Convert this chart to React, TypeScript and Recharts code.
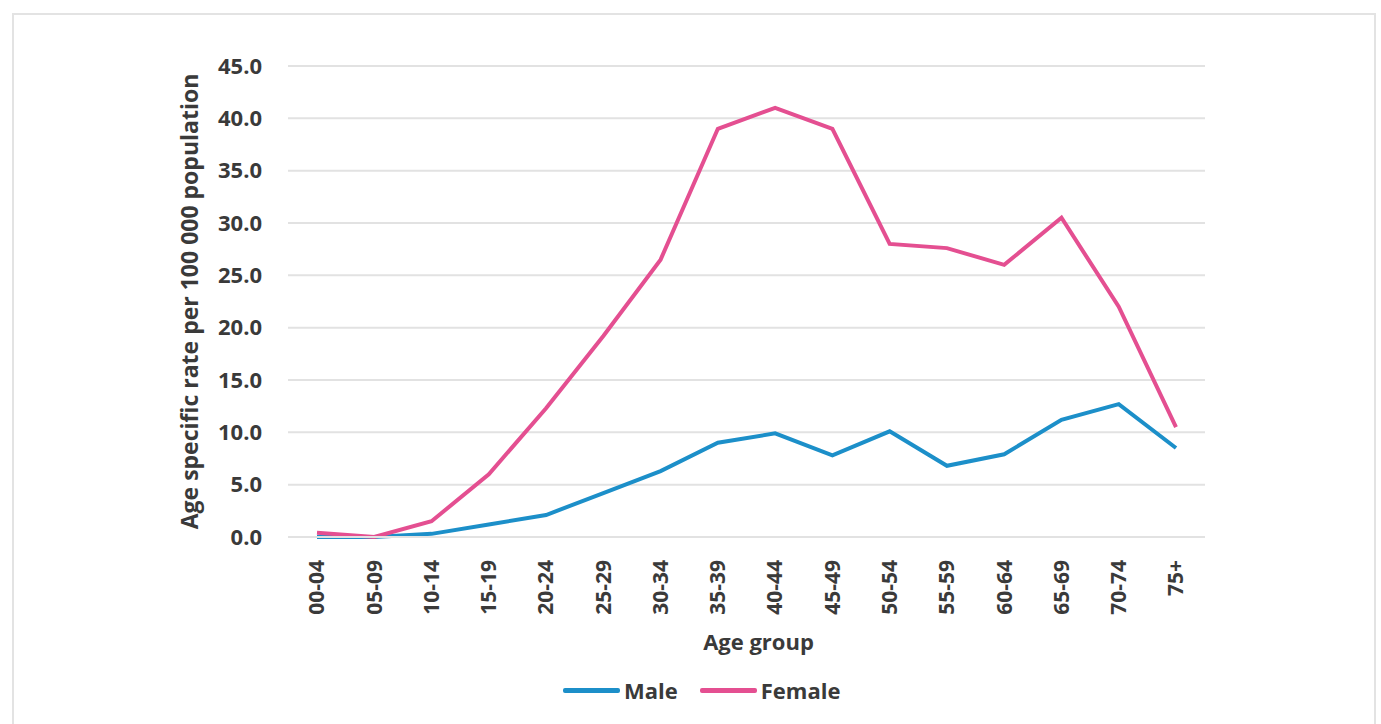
import React from 'react'
import { LineChart, Line, XAxis, YAxis, CartesianGrid, Legend } from 'recharts'

const ageGroups = ['00-04', '05-09', '10-14', '15-19', '20-24', '25-29', '30-34', '35-39', '40-44', '45-49', '50-54', '55-59', '60-64', '65-69', '70-74', '75+']
const maleRates = [0.0, 0.0, 0.3, 1.2, 2.1, 4.2, 6.3, 9.0, 9.9, 7.8, 10.1, 6.8, 7.9, 11.2, 12.7, 8.5]
const femaleRates = [0.4, 0.0, 1.5, 6.0, 12.3, 19.2, 26.5, 39.0, 41.0, 39.0, 28.0, 27.6, 26.0, 30.5, 22.0, 10.5]
const yTicks = [0, 5, 10, 15, 20, 25, 30, 35, 40, 45]

const MALE = '#1c8fc9'
const FEMALE = '#e44f91'
const TEXT = '#3a3a3a'
const FONT = '"Open Sans", Lato, sans-serif'

const data = ageGroups.map((g, i) => ({ group: g, male: maleRates[i], female: femaleRates[i] }))

function AgeTick({ x, y, payload }: any) {
  return (
    <text
      x={x}
      y={y}
      transform={`rotate(-90, ${x}, ${y})`}
      textAnchor="end"
      dy="0.35em"
      fill={TEXT}
      fontSize={21}
      fontWeight={700}
      fontFamily={FONT}
    >
      {payload.value}
    </text>
  )
}

function LegendBox() {
  const items = [
    { name: 'Male', color: MALE },
    { name: 'Female', color: FEMALE }
  ]
  return (
    <div style={{ display: 'flex', justifyContent: 'flex-start', alignItems: 'center', height: 30, paddingLeft: 563, fontFamily: FONT }}>
      {items.map((it) => (
        <div key={it.name} style={{ display: 'flex', alignItems: 'center', marginRight: 22 }}>
          <div style={{ width: 57, height: 5, background: it.color, borderRadius: 2 }} />
          <span style={{ fontSize: 22, fontWeight: 700, color: TEXT, marginLeft: 4 }}>{it.name}</span>
        </div>
      ))}
    </div>
  )
}

export default function App() {
  return (
    <div style={{ position: 'absolute', left: 0, top: 0, width: 1381, height: 724, background: '#fff', overflow: 'hidden' }}>
      <div style={{ position: 'absolute', left: 12, top: 13, width: 1364, height: 730, border: '2px solid #e3e3e3', boxSizing: 'border-box' }} />
      <div style={{ position: 'absolute', left: 0, top: 0 }}>
        <LineChart width={1381} height={724} data={data} margin={{ top: 66, right: 176, left: 180, bottom: 19 }}>
          <CartesianGrid vertical={false} stroke="#e2e2e2" strokeWidth={2} />
          <XAxis
            dataKey="group"
            height={138}
            padding={{ left: 29, right: 29 }}
            tick={<AgeTick />}
            tickLine={false}
            axisLine={{ stroke: '#e2e2e2', strokeWidth: 2 }}
            tickSize={6}
            tickMargin={17}
            interval={0}
            label={{ value: 'Age group', position: 'insideBottom', offset: 25, dx: 12, fill: TEXT, fontSize: 22, fontWeight: 700, fontFamily: FONT }}
          />
          <YAxis
            width={108}
            domain={[0, 45]}
            ticks={yTicks}
            interval={0}
            tickFormatter={(v: number) => v.toFixed(1)}
            tick={{ fill: TEXT, fontSize: 22, fontWeight: 700, fontFamily: FONT }}
            tickLine={false}
            axisLine={false}
            tickSize={0}
            tickMargin={26}
            label={{ value: 'Age specific rate per 100 000 population', angle: -90, position: 'insideLeft', offset: 10, fill: TEXT, fontSize: 23, fontWeight: 700, fontFamily: FONT, style: { textAnchor: 'middle' } }}
          />
          <Legend verticalAlign="bottom" wrapperStyle={{ left: 0, width: 1381 }} content={<LegendBox />} />
          <Line dataKey="male" name="Male" stroke={MALE} strokeWidth={4} dot={false} isAnimationActive={false} />
          <Line dataKey="female" name="Female" stroke={FEMALE} strokeWidth={4} dot={false} isAnimationActive={false} />
        </LineChart>
      </div>
    </div>
  )
}
